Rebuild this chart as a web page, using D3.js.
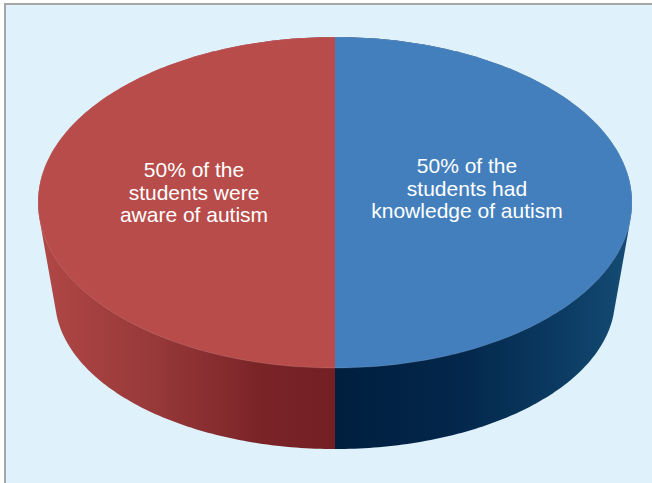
<!DOCTYPE html>
<html>
<head>
<meta charset="utf-8">
<script src="https://cdn.jsdelivr.net/npm/d3@7"></script>
<style>
html,body{margin:0;padding:0;background:#fff;}
svg{display:block;}
</style>
</head>
<body>
<svg id="chart" width="652" height="483"></svg>
<script>
// ---- data ----
const categories = ["had knowledge of autism", "were aware of autism"];
const values = [50, 50];
const labelLines = [
  ["50% of the", "students had", "knowledge of autism"],
  ["50% of the", "students were", "aware of autism"]
];
const topColors = ["#447fbd", "#b84c4a"];
// gradient stops run from the split line outward
const sideStops = [
  [["0%", "#001f3f"], ["40%", "#03264a"], ["75%", "#0b3a62"], ["100%", "#154c75"]],
  [["0%", "#731f24"], ["25%", "#7a2428"], ["60%", "#973839"], ["100%", "#b04846"]]
];

// ---- geometry ----
const W = 652, H = 483;
const cx = 335;
const topE = {cy: 202.5, rx: 297, ry: 165.5};
const botE = {cy: 299, rx: 280, ry: 150};

const svg = d3.select("#chart");
svg.append("rect").attr("x", 0).attr("y", 0).attr("width", W).attr("height", H).attr("fill", "#ffffff");
svg.append("rect").attr("x", 5).attr("y", 4).attr("width", W + 10).attr("height", H + 10)
  .attr("fill", "#dff1fa").attr("stroke", "#a6a6a6").attr("stroke-width", 2);

const pie = d3.pie().sort(null).startAngle(0).endAngle(2 * Math.PI);
const arcs = pie(values);

function pt(e, a) { return [cx + e.rx * Math.sin(a), e.cy - e.ry * Math.cos(a)]; }
function samples(a0, a1, n) { return d3.range(n + 1).map(i => a0 + (a1 - a0) * i / n); }

const defs = svg.append("defs");
sideStops.forEach((stops, i) => {
  const g = defs.append("linearGradient").attr("id", "side" + i)
    .attr("gradientUnits", "userSpaceOnUse")
    .attr("x1", cx).attr("y1", 0)
    .attr("x2", i === 0 ? cx + topE.rx : cx - topE.rx).attr("y2", 0);
  stops.forEach(s => g.append("stop").attr("offset", s[0]).attr("stop-color", s[1]));
});

// sides (hull of slice points on top and bottom ellipses)
arcs.forEach((d, i) => {
  const as = samples(d.startAngle, d.endAngle, 180);
  const pts = as.map(a => pt(topE, a)).concat(as.map(a => pt(botE, a)));
  const hull = d3.polygonHull(pts);
  svg.append("path").attr("d", "M" + hull.join("L") + "Z")
    .attr("fill", "url(#side" + i + ")");
});

// top faces
arcs.forEach((d, i) => {
  const as = samples(d.startAngle, d.endAngle, 180);
  const pts = [[cx, topE.cy]].concat(as.map(a => pt(topE, a)));
  svg.append("path").attr("d", d3.line()(pts) + "Z")
    .attr("fill", topColors[i]);
});
// faint edge on top rim
svg.append("path")
  .attr("d", d3.line()(samples(0, 2 * Math.PI, 360).map(a => pt(topE, a))) + "Z")
  .attr("fill", "none").attr("stroke", "#ffffff").attr("stroke-opacity", 0.12).attr("stroke-width", 1);

// labels
const labelPos = [[467, 173], [194, 177]];
arcs.forEach((d, i) => {
  const t = svg.append("text")
    .attr("x", labelPos[i][0]).attr("y", labelPos[i][1])
    .attr("text-anchor", "middle")
    .attr("font-family", "Liberation Sans, Arial, sans-serif")
    .attr("font-size", 21).attr("fill", "#ffffff");
  labelLines[i].forEach((s, k) => {
    t.append("tspan").attr("x", labelPos[i][0]).attr("dy", k === 0 ? 0 : 22.5).text(s);
  });
});
</script>
</body>
</html>
